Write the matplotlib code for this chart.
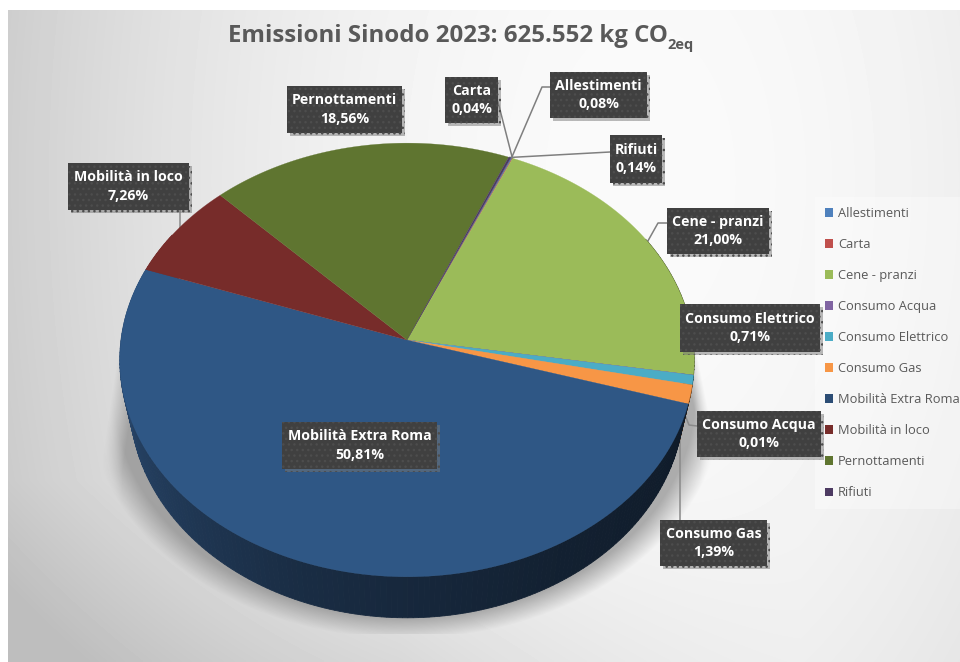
import numpy as np
import matplotlib
matplotlib.use("Agg")
from matplotlib import pyplot as plt
from matplotlib.patches import Patch, Rectangle
import matplotlib.patheffects as pe

categories = ["Allestimenti", "Carta", "Cene - pranzi", "Consumo Acqua", "Consumo Elettrico",
              "Consumo Gas", "Mobilità Extra Roma", "Mobilità in loco", "Pernottamenti", "Rifiuti"]
values = [0.08, 0.04, 21.00, 0.01, 0.71, 1.39, 50.81, 7.26, 18.56, 0.14]
colors = ["#4F81BD", "#C0504D", "#9BBB59", "#8064A2", "#4BACC6",
          "#F79646", "#2C4D75", "#772C2A", "#5F7530", "#4D3B62"]
# the top face of the big slice is lit a bit brighter than its legend colour
face_colors = list(colors)
face_colors[6] = "#2F5785"

# pie geometry, in picture pixels
apex_x, apex_y = 407, 340
rx, ry, persp = 286, 215, 0.092
start_angle = 23.2
depth = 41
foot_shrink = 0.965

# label boxes: left, top, right, bottom
boxes = {
    "Allestimenti": (550, 72, 647, 118),
    "Carta": (445, 77, 498, 123),
    "Cene - pranzi": (667, 208, 769, 254),
    "Consumo Acqua": (697, 411, 821, 457),
    "Consumo Elettrico": (680, 304, 820, 352),
    "Consumo Gas": (660, 520, 767, 566),
    "Mobilità Extra Roma": (282, 422, 437, 469),
    "Mobilità in loco": (68, 163, 189, 210),
    "Pernottamenti": (287, 86, 402, 133),
    "Rifiuti": (610, 135, 662, 183),
}
# leader lines: elbow points from the box towards the pie
leaders = {
    "Allestimenti": [(550, 87), (542, 87)],
    "Carta": [(498, 102)],
    "Cene - pranzi": [(667, 223), (658, 223)],
    "Rifiuti": [(610, 152)],
}
extra_leaders = [[(180, 210), (180, 228)],
                 [(697, 426), (689, 425), (685, 415)],
                 [(680, 520), (680, 430)]]


def rim(deg):
    t = np.radians(deg)
    x, y = np.sin(t), np.cos(t)
    w = 1 + persp * y
    return apex_x + rx * x / w, apex_y - ry * y / w


def foot(deg):
    x, y = rim(deg)
    return 405 + (x - 405) * foot_shrink, y + depth


def darker(col, f):
    return tuple(c * f for c in matplotlib.colors.to_rgb(col))


fig = plt.figure(figsize=(9.6, 6.62), dpi=100)
ax = fig.add_axes([0, 0, 1, 1])
plt.rcParams["font.family"] = ["Open Sans", "DejaVu Sans"]

# background
yy, xx = np.mgrid[0:662, 0:960]
dist = np.sqrt((xx - 640) ** 2 + (0.6 * (yy - 180)) ** 2)
bg = 250 - 50 * (dist / 680) ** 2 - 18 * np.clip((yy - 480) / 180, 0, 1) * np.clip((800 - xx) / 400, 0, 1)
bg = np.clip(bg, 190, 250) / 255
ax.imshow(bg[10:, 8:], cmap="gray", vmin=0, vmax=1, extent=(8, 960, 662, 10), zorder=0, aspect="auto")

# soft shadow under the pie
d = np.sqrt(((xx - 405) / 318) ** 2 + ((yy - 398) / 240) ** 2)
left_edge = np.maximum(118 - 0.15 * (yy - 350), 100)
right_edge = np.minimum(697 + 0.2 * (yy - 355), 714)
sh = np.clip((1.0 - d) / 0.09, 0, 1) * (yy > 345) * (yy < 634)
sh = sh * np.clip((xx - left_edge) / 22, 0, 1) * np.clip((right_edge - xx) / 14, 0, 1)
shadow = np.zeros((662, 960, 4))
shadow[..., :3] = 0.5
shadow[..., 3] = sh * 0.62
ax.imshow(shadow, extent=(0, 960, 662, 0), zorder=1, aspect="auto")
ax.set_xlim(0, 960)
ax.set_ylim(662, 0)
ax.axis("off")

# leader lines run behind the pie
edges = start_angle + np.cumsum([0] + values) * 3.6
for name, pts in leaders.items():
    i = categories.index(name)
    px, py = rim((edges[i] + edges[i + 1]) / 2)
    ax.plot([p[0] for p in pts] + [px], [p[1] for p in pts] + [py], color="#7f7f7f", lw=1.1, zorder=1.5)
for pts in extra_leaders:
    ax.plot([p[0] for p in pts], [p[1] for p in pts], color="#8a8a8a", lw=1.1, zorder=1.5)

# side and top faces, from the values
for i, col in enumerate(colors):
    a0, a1 = edges[i], edges[i + 1]
    angles = np.arange(a0, a1 + 1, 1.0)
    angles = np.append(angles[angles < a1], a1)
    for p, q in zip(angles[:-1], angles[1:]):
        if 60 < (p % 360) < 300:
            x0, y0 = rim(p)
            x1, y1 = rim(q)
            x2, y2 = foot(q)
            x3, y3 = foot(p)
            shade = np.interp(p % 360, [107, 150, 200, 280], [0.35, 0.42, 0.58, 1.0])
            ax.fill([x0, x1, x2, x3], [y0, y1, y2, y3], color=darker(col, shade), lw=0.6, zorder=2)
    rim_x, rim_y = rim(np.linspace(a0, a1, 120))
    ax.fill(np.r_[apex_x, rim_x], np.r_[apex_y, rim_y], color=face_colors[i], lw=0.2, zorder=3)

# data labels
for name, val in zip(categories, values):
    x0, y0, x1, y1 = boxes[name]
    r = Rectangle((x0, y0), x1 - x0, y1 - y0, facecolor="#404040", edgecolor="#4d4d4d",
                  hatch="...", lw=0, zorder=5,
                  path_effects=[pe.SimplePatchShadow(offset=(2.5, -2.5), shadow_rgbFace="#777777", alpha=0.5),
                                pe.Normal()])
    ax.add_patch(r)
    txt = name + "\n" + f"{val:.2f}".replace(".", ",") + "%"
    ax.text((x0 + x1) / 2, (y0 + y1) / 2, txt, color="white", fontsize=10.2, fontweight="bold",
            ha="center", va="center", linespacing=1.4, zorder=6)

# title
title = ax.text(228, 36, "Emissioni Sinodo 2023: 625.552 kg CO", color="#595959", fontsize=17.3,
                fontweight="bold", ha="left", va="center", zorder=6)
fig.canvas.draw()
title_end = title.get_window_extent().x1
ax.text(title_end, 45, "2eq", color="#595959", fontsize=10.5, fontweight="bold",
        ha="left", va="center", zorder=6)

# legend
handles = [Patch(facecolor=c, edgecolor="none", label=n) for c, n in zip(colors, categories)]
leg = ax.legend(handles=handles, loc="upper left", bbox_to_anchor=(815, 197), bbox_transform=ax.transData,
                borderaxespad=0, fontsize=9.3, labelcolor="#595959", frameon=True, fancybox=False,
                facecolor="white", edgecolor="none", framealpha=0.35, handlelength=0.67, handleheight=0.67,
                handletextpad=0.35, labelspacing=1.40, borderpad=0.75)
leg.set_zorder(4)

fig.savefig("out.png", dpi=100)
plt.close(fig)
